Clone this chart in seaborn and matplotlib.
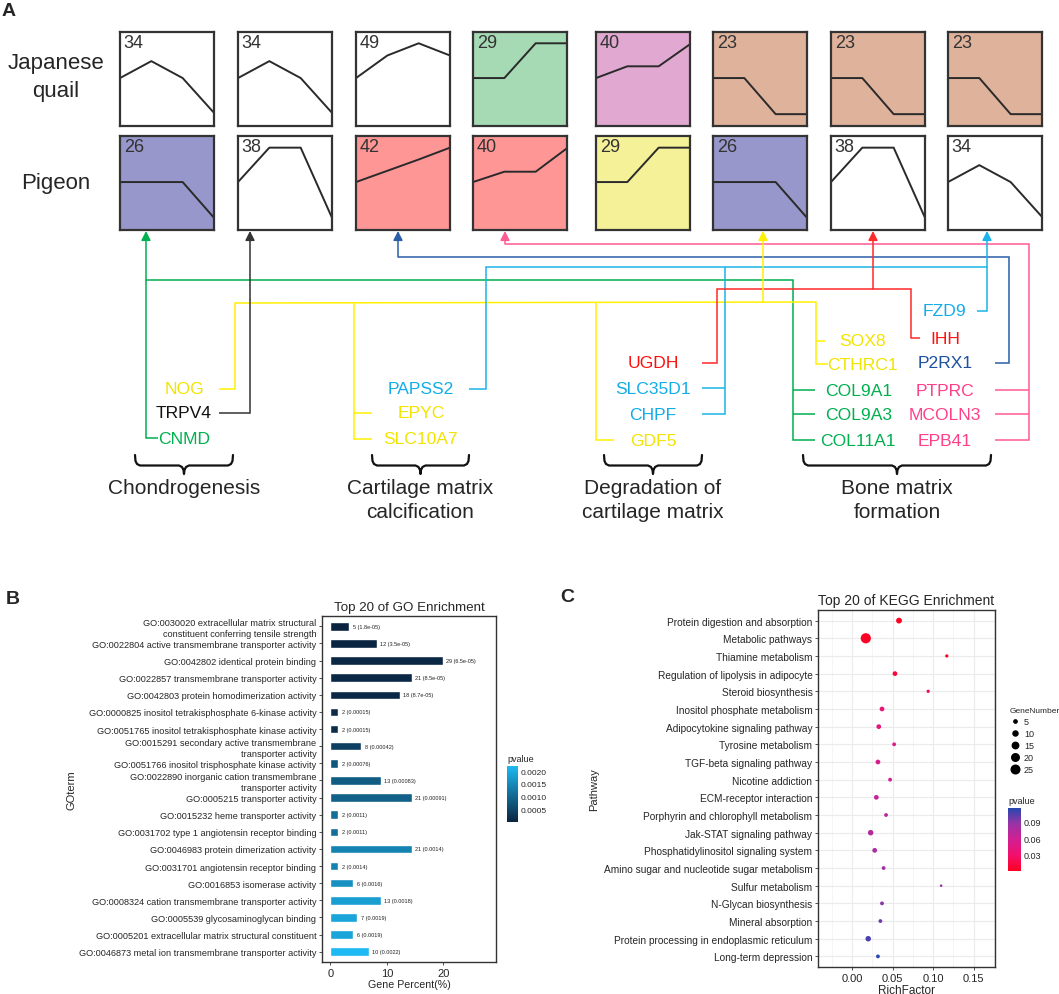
import matplotlib
matplotlib.use("Agg")
import numpy as np
import pandas as pd
import matplotlib.pyplot as plt
import seaborn as sns
from matplotlib.colors import LinearSegmentedColormap, Normalize
from matplotlib.cm import ScalarMappable
from matplotlib.lines import Line2D
from matplotlib.ticker import FormatStrFormatter

# ---------------- data: panel A ----------------
row_labels = ["Japanese\nquail", "Pigeon"]
quail_counts = [34, 34, 49, 29, 40, 23, 23, 23]
quail_fill = ["#ffffff", "#ffffff", "#ffffff", "#a5dab4", "#e1a9d1", "#dfb29c", "#dfb29c", "#dfb29c"]
quail_profiles = [
    [0.51, 0.69, 0.51, 0.14],
    [0.51, 0.69, 0.51, 0.14],
    [0.51, 0.75, 0.88, 0.75],
    [0.51, 0.51, 0.88, 0.88],
    [0.51, 0.635, 0.635, 0.87],
    [0.51, 0.51, 0.126, 0.126],
    [0.51, 0.51, 0.126, 0.126],
    [0.51, 0.51, 0.126, 0.126],
]
pigeon_counts = [26, 38, 42, 40, 29, 26, 38, 34]
pigeon_fill = ["#9797cb", "#ffffff", "#ff9696", "#ff9696", "#f5f199", "#9797cb", "#ffffff", "#ffffff"]
pigeon_profiles = [
    [0.51, 0.51, 0.51, 0.13],
    [0.51, 0.876, 0.876, 0.13],
    [0.51, 0.63, 0.75, 0.876],
    [0.51, 0.62, 0.62, 0.87],
    [0.51, 0.51, 0.876, 0.876],
    [0.51, 0.51, 0.51, 0.13],
    [0.51, 0.876, 0.876, 0.13],
    [0.51, 0.69, 0.51, 0.14],
]
genes = ["NOG", "TRPV4", "CNMD", "PAPSS2", "EPYC", "SLC10A7",
         "UGDH", "SLC35D1", "CHPF", "GDF5",
         "SOX8", "CTHRC1", "COL9A1", "COL9A3", "COL11A1",
         "FZD9", "IHH", "P2RX1", "PTPRC", "MCOLN3", "EPB41"]
YEL, GRN, CYA, RED, PNK, DBL, BLK = "#f2e400", "#00b04f", "#12ade8", "#ff1010", "#ff3f88", "#1c50a0", "#111111"
gene_colors = [YEL, BLK, GRN, CYA, YEL, YEL,
               RED, CYA, CYA, YEL,
               YEL, YEL, GRN, GRN, GRN,
               CYA, RED, DBL, PNK, PNK, PNK]
groups = ["Chondrogenesis", "Cartilage matrix\ncalcification",
          "Degradation of\ncartilage matrix", "Bone matrix\nformation"]

# ---------------- data: panel B ----------------
go_terms = [
    "GO:0030020 extracellular matrix structural\nconstituent conferring tensile strength",
    "GO:0022804 active transmembrane transporter activity",
    "GO:0042802 identical protein binding",
    "GO:0022857 transmembrane transporter activity",
    "GO:0042803 protein homodimerization activity",
    "GO:0000825 inositol tetrakisphosphate 6-kinase activity",
    "GO:0051765 inositol tetrakisphosphate kinase activity",
    "GO:0015291 secondary active transmembrane\ntransporter activity",
    "GO:0051766 inositol trisphosphate kinase activity",
    "GO:0022890 inorganic cation transmembrane\ntransporter activity",
    "GO:0005215 transporter activity",
    "GO:0015232 heme transporter activity",
    "GO:0031702 type 1 angiotensin receptor binding",
    "GO:0046983 protein dimerization activity",
    "GO:0031701 angiotensin receptor binding",
    "GO:0016853 isomerase activity",
    "GO:0008324 cation transmembrane transporter activity",
    "GO:0005539 glycosaminoglycan binding",
    "GO:0005201 extracellular matrix structural constituent",
    "GO:0046873 metal ion transmembrane transporter activity",
]
go_counts = [5, 12, 29, 21, 18, 2, 2, 8, 2, 13, 21, 2, 2, 21, 2, 6, 13, 7, 6, 10]
go_percent = [3.4, 8.2, 19.9, 14.4, 12.3, 1.4, 1.4, 5.5, 1.4, 8.9, 14.4, 1.4, 1.4, 14.4, 1.4, 4.1, 8.9, 4.8, 4.1, 6.8]
go_pvalue = [1.8e-05, 3.5e-05, 6.5e-05, 8.5e-05, 8.7e-05, 0.00015, 0.00015, 0.00042, 0.00076, 0.00083,
             0.00091, 0.0011, 0.0011, 0.0014, 0.0014, 0.0016, 0.0018, 0.0019, 0.0019, 0.0022]

# ---------------- data: panel C ----------------
kegg_paths = [
    "Protein digestion and absorption", "Metabolic pathways", "Thiamine metabolism",
    "Regulation of lipolysis in adipocyte", "Steroid biosynthesis", "Inositol phosphate metabolism",
    "Adipocytokine signaling pathway", "Tyrosine metabolism", "TGF-beta signaling pathway",
    "Nicotine addiction", "ECM-receptor interaction", "Porphyrin and chlorophyll metabolism",
    "Jak-STAT signaling pathway", "Phosphatidylinositol signaling system",
    "Amino sugar and nucleotide sugar metabolism", "Sulfur metabolism", "N-Glycan biosynthesis",
    "Mineral absorption", "Protein processing in endoplasmic reticulum", "Long-term depression",
]
kegg_rich = [0.058, 0.017, 0.117, 0.053, 0.094, 0.037, 0.033, 0.052, 0.032, 0.047,
             0.030, 0.042, 0.023, 0.028, 0.039, 0.110, 0.037, 0.035, 0.020, 0.032]
kegg_genes = [8, 26, 2, 5, 2, 5, 5, 3, 5, 3, 5, 3, 7, 5, 3, 1, 3, 3, 7, 3]
kegg_pvalue = [0.002, 0.003, 0.008, 0.012, 0.018, 0.038, 0.043, 0.048, 0.054, 0.060,
               0.065, 0.070, 0.074, 0.079, 0.084, 0.088, 0.091, 0.096, 0.106, 0.113]
gene_size_legend = [5, 10, 15, 20, 25]

# ---------------- setup ----------------
sns.set_theme(style="white")
plt.rcParams["font.family"] = ["Liberation Sans", "DejaVu Sans"]
W, H = 1059, 995
fig = plt.figure(figsize=(W / 100, H / 100), dpi=100)


def fr(l, t, r, b):
    return [l / W, 1 - b / H, (r - l) / W, (b - t) / H]


# overlay axes in pixel coordinates for panel A diagram
axA = fig.add_axes([0, 0, 1, 1])
axA.set_xlim(0, W)
axA.set_ylim(H, 0)
axA.axis("off")

axA.text(9, 12, "A", fontsize=14, fontweight="bold", ha="center", va="center")
axA.text(13, 600, "B", fontsize=14, fontweight="bold", ha="center", va="center")
axA.text(567, 598, "C", fontsize=14, fontweight="bold", ha="center", va="center")

# row labels
axA.text(56, 63, row_labels[0].split("\n")[0], fontsize=16, ha="center", va="center")
axA.text(56, 91, row_labels[0].split("\n")[1], fontsize=16, ha="center", va="center")
axA.text(56, 183, row_labels[1], fontsize=16, ha="center", va="center")

box_lefts = [120, 238, 356, 473, 596, 713, 831, 948]
BW = 94
rows = [(33, quail_counts, quail_fill, quail_profiles), (137, pigeon_counts, pigeon_fill, pigeon_profiles)]
for top, counts, fills, profs in rows:
    for l, n, fc, prof in zip(box_lefts, counts, fills, profs):
        ax = fig.add_axes(fr(l, top, l + BW, top + BW))
        sns.lineplot(x=[0, 1, 2, 3], y=prof, ax=ax, color="#2a2a2a", lw=1.4)
        ax.set_xlim(0, 3)
        ax.set_ylim(0, 1)
        ax.set_facecolor(fc)
        ax.set_xticks([])
        ax.set_yticks([])
        ax.set_xlabel("")
        ax.set_ylabel("")
        for s in ax.spines.values():
            s.set_color("#333333")
            s.set_linewidth(1.6)
        ax.text(0.04, 0.98, str(n), transform=ax.transAxes, ha="left", va="top",
                fontsize=13, color="#333333")

# gene labels (layout positions)
gene_pos = [(184, 390), (184, 414), (184, 439), (421, 390), (421, 414), (421, 440),
            (653, 364), (653, 389), (653, 415), (653, 441),
            (863, 342), (862, 365), (859, 391), (859, 415), (858, 441),
            (945, 312), (945, 339), (945, 364), (945, 391), (945, 415), (945, 441)]
for g, c, (x, y) in zip(genes, gene_colors, gene_pos):
    axA.text(x, y, g, color=c, fontsize=12.6, ha="center", va="center")

# connectors
LYEL, LGRN, LCYA, LRED, LPNK, LDBL, LBLK = "#fff000", "#00b050", "#1ab4ea", "#ff2a2a", "#ff5a94", "#2a5ea8", "#333333"
lw = 1.1
paths = [
    (LGRN, [(146, 281), (793, 281), (793, 441), (815, 441)]),
    (LGRN, [(793, 391), (815, 391)]),
    (LGRN, [(793, 415), (815, 415)]),
    (LGRN, [(158, 439), (146, 439), (146, 281)]),
    (LYEL, [(219, 390), (235, 390), (235, 304), (816, 303), (816, 365), (828, 365)]),
    (LYEL, [(816, 342), (825, 342)]),
    (LYEL, [(354, 304), (354, 440), (372, 440)]),
    (LYEL, [(354, 414), (372, 414)]),
    (LYEL, [(596, 303), (596, 441), (614, 441)]),
    (LCYA, [(469, 390), (486, 390), (486, 268), (987, 268)]),
    (LCYA, [(977, 312), (987, 312), (987, 268)]),
    (LCYA, [(725, 268), (725, 415), (702, 415)]),
    (LCYA, [(702, 389), (725, 389)]),
    (LDBL, [(995, 364), (1009, 364), (1009, 258), (398, 258)]),
    (LPNK, [(995, 441), (1029, 441), (1029, 245), (505, 245)]),
    (LPNK, [(995, 391), (1029, 391)]),
    (LPNK, [(995, 415), (1029, 415)]),
    (LRED, [(702, 364), (717, 364), (717, 290), (911, 290), (911, 339), (920, 339)]),
    (LBLK, [(219, 414), (250, 414), (250, 300)]),
]
for c, pts in paths:
    xs, ys = zip(*pts)
    axA.plot(xs, ys, color=c, lw=lw, solid_joinstyle="miter", solid_capstyle="butt")

arrows = [(LGRN, 146, 281), (LBLK, 250, 300), (LDBL, 398, 258), (LPNK, 505, 245),
          (LYEL, 763, 303), (LRED, 873, 290), (LCYA, 987, 268)]
for c, x, y0 in arrows:
    axA.annotate("", xy=(x, 232), xytext=(x, y0),
                 arrowprops=dict(arrowstyle="-|>,head_length=0.55,head_width=0.28", color=c,
                                 lw=lw, shrinkA=0, shrinkB=0, mutation_scale=10))

# braces and group labels
brace_spans = [(135, 233), (372, 469), (604, 702), (803, 991)]
for (x0, x1), lab in zip(brace_spans, groups):
    xc = (x0 + x1) / 2
    bx = [x0, x0 + 0.5, x0 + 2, x0 + 5, xc - 5, xc - 2, xc - 0.5, xc,
          xc + 0.5, xc + 2, xc + 5, x1 - 5, x1 - 2, x1 - 0.5, x1]
    by = [456, 462, 465, 466.5, 466.5, 468, 471, 475, 471, 468, 466.5, 466.5, 465, 462, 456]
    axA.plot(bx, by, color="#111111", lw=1.6, solid_joinstyle="round")
    for k, line in enumerate(lab.split("\n")):
        axA.text(xc, 488 + 25 * k, line, fontsize=15, ha="center", va="center")

# ---------------- panel B ----------------
go_cmap = LinearSegmentedColormap.from_list("go", ["#0a2440", "#1cb9f2"])
go_norm = Normalize(min(go_pvalue), max(go_pvalue))
go_df = pd.DataFrame({"term": go_terms, "percent": go_percent, "pvalue": go_pvalue, "count": go_counts})
go_colors = [go_cmap(go_norm(p)) for p in go_pvalue]

axB = fig.add_axes(fr(322, 617, 496, 963))
sns.barplot(data=go_df, x="percent", y="term", hue="term", palette=go_colors, legend=False,
            width=0.5, orient="h", saturation=1, ax=axB)
axB.set_xlim(-1.45, 29.3)
axB.set_ylim(19.6, -0.6)
for i, (pc, cnt, pv) in enumerate(zip(go_percent, go_counts, go_pvalue)):
    axB.text(pc + 0.6, i, f"{cnt} ({pv:.2g})", fontsize=4, va="center", ha="left", color="#222222")
axB.set_xticks([0, 10, 20])
axB.set_yticks(range(len(go_terms)))
axB.set_yticklabels(go_terms, linespacing=1.2)
axB.tick_params(axis="x", labelsize=8, length=2.5, width=0.6, color="#333333", pad=1.5, bottom=True)
axB.tick_params(axis="y", labelsize=6.6, length=2.5, width=0.6, color="#333333", pad=1.5, left=True)
for s in axB.spines.values():
    s.set_color("#333333")
    s.set_linewidth(1.0)
axB.set_title("Top 20 of GO Enrichment", fontsize=9.6, pad=4)
axB.set_xlabel("Gene Percent(%)", fontsize=7.7, labelpad=1)
axB.set_ylabel("GOterm", fontsize=8, labelpad=2)

caxB = fig.add_axes(fr(507, 767, 518, 823))
cbB = fig.colorbar(ScalarMappable(go_norm, go_cmap), cax=caxB)
cbB.set_ticks([0.0005, 0.0010, 0.0015, 0.0020])
cbB.ax.yaxis.set_major_formatter(FormatStrFormatter("%.4f"))
cbB.ax.tick_params(labelsize=6, length=2, color="white", direction="in", pad=2)
cbB.outline.set_visible(False)
axA.text(507, 759, "pvalue", fontsize=6.5, ha="left", va="center")

# ---------------- panel C ----------------
kg_cmap = LinearSegmentedColormap.from_list("kg", ["#ff0020", "#f2106c", "#d21f92", "#9a33a6", "#2448b0"])
kg_norm = Normalize(0.001, 0.115)
kg_df = pd.DataFrame({"Pathway": kegg_paths, "RichFactor": kegg_rich, "GeneNumber": kegg_genes,
                      "pvalue": kegg_pvalue})
axC = fig.add_axes(fr(818, 611, 995, 968))
SMIN, SMAX = 3.5, 54
sns.scatterplot(data=kg_df, x="RichFactor", y="Pathway", size="GeneNumber", sizes=(SMIN, SMAX),
                size_norm=(1, 26), hue="pvalue", hue_norm=kg_norm, palette=kg_cmap,
                linewidth=0, legend=False, ax=axC, zorder=3)
axC.set_xlim(-0.042, 0.1765)
axC.set_ylim(19.6, -0.6)
axC.set_xticks([0, 0.05, 0.10, 0.15])
axC.set_xticks([-0.025, 0.025, 0.075, 0.125, 0.175], minor=True)
axC.xaxis.set_major_formatter(FormatStrFormatter("%.2f"))
axC.grid(True, which="major", color="#ebebeb", lw=0.8)
axC.grid(True, which="minor", axis="x", color="#f2f2f2", lw=0.5)
axC.set_axisbelow(True)
axC.tick_params(axis="x", labelsize=8, length=2.5, width=0.6, color="#333333", pad=1.5, bottom=True)
axC.tick_params(axis="x", which="minor", length=0)
axC.tick_params(axis="y", labelsize=7.3, length=2.5, width=0.6, color="#333333", pad=1.5, left=True)
for s in axC.spines.values():
    s.set_color("#333333")
    s.set_linewidth(1.0)
axC.set_title("Top 20 of KEGG Enrichment", fontsize=10, pad=4)
axC.set_xlabel("RichFactor", fontsize=8.5, labelpad=1)
axC.set_ylabel("Pathway", fontsize=8, labelpad=3)

handles = [Line2D([], [], marker="o", ls="", color="black", markeredgewidth=0,
                  markersize=np.sqrt(SMIN + (SMAX - SMIN) * (v - 1) / 25)) for v in gene_size_legend]
leg = axC.legend(handles, [str(v) for v in gene_size_legend], title="GeneNumber", loc="upper left",
                 bbox_to_anchor=(1005 / W, 1 - 703 / H), bbox_transform=fig.transFigure, frameon=False,
                 fontsize=6.5, title_fontsize=6.0, labelspacing=0.35, handletextpad=0.4,
                 borderpad=0, handlelength=1.2)
leg._legend_box.align = "left"

caxC = fig.add_axes(fr(1008, 809, 1021, 872))
cbC = fig.colorbar(ScalarMappable(kg_norm, kg_cmap), cax=caxC)
cbC.set_ticks([0.03, 0.06, 0.09])
cbC.ax.yaxis.set_major_formatter(FormatStrFormatter("%.2f"))
cbC.ax.tick_params(labelsize=6.5, length=2, color="white", direction="in", pad=2)
cbC.outline.set_visible(False)
axA.text(1008, 802, "pvalue", fontsize=6.5, ha="left", va="center")

fig.savefig("out.png", dpi=100)
